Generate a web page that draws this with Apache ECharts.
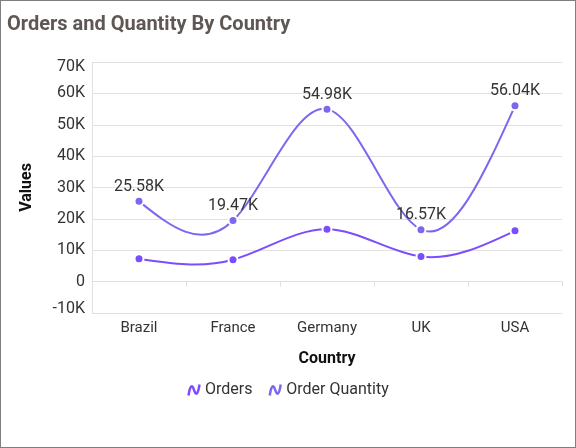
<!DOCTYPE html>
<html>
<head>
<meta charset="utf-8">
<script src="https://cdn.jsdelivr.net/npm/echarts@6/dist/echarts.min.js"></script>
<style>
html,body{margin:0;padding:0;background:#fff;}
#wrap{width:576px;height:448px;box-sizing:border-box;border:1px solid #7f7f7f;position:relative;}
#c{position:absolute;left:-1px;top:-1px;width:576px;height:448px;}
</style>
</head>
<body>
<div id="wrap"><div id="c"></div></div>
<script>
var categories = ['Brazil', 'France', 'Germany', 'UK', 'USA'];
var orders = [7300, 7000, 16700, 8000, 16200];
var orderQuantity = [25580, 19470, 54980, 16570, 56040];
var yTicks = { min: -10000, max: 70000, step: 10000 };

var colOrders = '#7c4dff';
var colQty = '#7b68ee';
var font = 'Roboto';
var legendIcon = 'path://M0,10 C1.5,0 3.5,0 5,5 C6.5,10 8.5,10 10,0';

function kfmt(v){
  var s = v === 0 ? '0' : (v/1000) + 'K';
  if (v === yTicks.max) return '{hi|' + s + '}';
  if (v === yTicks.min) return '{lo|' + s + '}';
  return s;
}

// natural cubic spline through pixel points, as bezier path data
function splinePath(pts){
  var n = pts.length - 1;
  function derivs(k){
    var a = [], b = [], c = [], d = [];
    for (var i = 0; i <= n; i++){
      if (i === 0){ a[i]=0; b[i]=2; c[i]=1; d[i]=3*(pts[1][k]-pts[0][k]); }
      else if (i === n){ a[i]=1; b[i]=2; c[i]=0; d[i]=3*(pts[n][k]-pts[n-1][k]); }
      else { a[i]=1; b[i]=4; c[i]=1; d[i]=3*(pts[i+1][k]-pts[i-1][k]); }
    }
    for (var j = 1; j <= n; j++){
      var m = a[j]/b[j-1];
      b[j] -= m*c[j-1];
      d[j] -= m*d[j-1];
    }
    var D = [];
    D[n] = d[n]/b[n];
    for (var j2 = n-1; j2 >= 0; j2--) D[j2] = (d[j2]-c[j2]*D[j2+1])/b[j2];
    return D;
  }
  var Dx = derivs(0), Dy = derivs(1);
  var s = 'M' + pts[0][0] + ',' + pts[0][1];
  for (var i = 0; i < n; i++){
    s += ' C' + (pts[i][0]+Dx[i]/3) + ',' + (pts[i][1]+Dy[i]/3) + ' ' +
         (pts[i+1][0]-Dx[i+1]/3) + ',' + (pts[i+1][1]-Dy[i+1]/3) + ' ' +
         pts[i+1][0] + ',' + pts[i+1][1];
  }
  return s;
}

function curveSeries(name, values, color){
  return {
    name: name, type: 'custom', z: 1, silent: true,
    data: values.map(function(v, i){ return [i, v]; }),
    renderItem: function(params, api){
      if (params.dataIndex !== 0) return null;
      var pts = values.map(function(v, i){ return api.coord([i, v]); });
      return {
        type: 'path',
        shape: { pathData: splinePath(pts) },
        style: { fill: 'none', stroke: color, lineWidth: 2 }
      };
    }
  };
}

var chart = echarts.init(document.getElementById('c'));
chart.setOption({
  animation: false,
  textStyle: { fontFamily: font },
  title: {
    text: 'Orders and Quantity By Country',
    left: 2, top: 10,
    textStyle: { fontFamily: font, fontSize: 20, fontWeight: 'bold', color: '#5e5753' }
  },
  legend: {
    bottom: 45,
    left: 'center',
    itemWidth: 12, itemHeight: 11, itemGap: 16,
    textStyle: { fontFamily: font, fontSize: 16, color: '#333' },
    data: [
      { name: 'Orders', icon: legendIcon, itemStyle: { color: 'transparent', borderColor: colOrders, borderWidth: 2.5 } },
      { name: 'Order Quantity', icon: legendIcon, itemStyle: { color: 'transparent', borderColor: colQty, borderWidth: 2.5 } }
    ]
  },
  grid: { left: 92, right: 14, top: 62, bottom: 135 },
  xAxis: {
    type: 'category',
    data: categories,
    name: 'Country',
    nameLocation: 'middle',
    nameGap: 38,
    nameTextStyle: { fontFamily: font, fontSize: 16, fontWeight: 'bold', color: '#111' },
    axisLine: { lineStyle: { color: '#e0e0e0' } },
    axisTick: { show: true, length: 5, lineStyle: { color: '#e0e0e0' } },
    axisLabel: { fontFamily: font, fontSize: 15, color: '#333', margin: 8 }
  },
  yAxis: {
    type: 'value',
    min: yTicks.min, max: yTicks.max, interval: yTicks.step,
    name: 'Values',
    nameLocation: 'middle',
    nameGap: 57,
    nameTextStyle: { fontFamily: font, fontSize: 16, fontWeight: 'bold', color: '#111' },
    axisLine: { show: true, lineStyle: { color: '#e0e0e0' } },
    axisTick: { show: false },
    splitLine: { lineStyle: { color: '#e0e0e0' } },
    axisLabel: {
      fontFamily: font, fontSize: 16, color: '#333', margin: 7, formatter: kfmt,
      rich: {
        hi: { fontFamily: font, fontSize: 16, color: '#333', padding: [9, 0, 0, 0] },
        lo: { fontFamily: font, fontSize: 16, color: '#333', padding: [0, 0, 9, 0] }
      }
    }
  },
  series: [
    curveSeries('Orders', orders, colOrders),
    curveSeries('Order Quantity', orderQuantity, colQty),
    {
      name: 'Orders', type: 'line', data: orders, z: 3,
      symbol: 'circle', symbolSize: 9,
      lineStyle: { width: 0, opacity: 0 },
      itemStyle: { color: colOrders, borderColor: '#fff', borderWidth: 2 }
    },
    {
      name: 'Order Quantity', type: 'line', data: orderQuantity, z: 3,
      symbol: 'circle', symbolSize: 9,
      lineStyle: { width: 0, opacity: 0 },
      itemStyle: { color: colQty, borderColor: '#fff', borderWidth: 2 },
      label: {
        show: true, position: 'top', distance: 1,
        fontFamily: font, fontSize: 16, color: '#333',
        formatter: function(p){ return (p.value/1000).toFixed(2) + 'K'; }
      }
    }
  ]
});
</script>
</body>
</html>
